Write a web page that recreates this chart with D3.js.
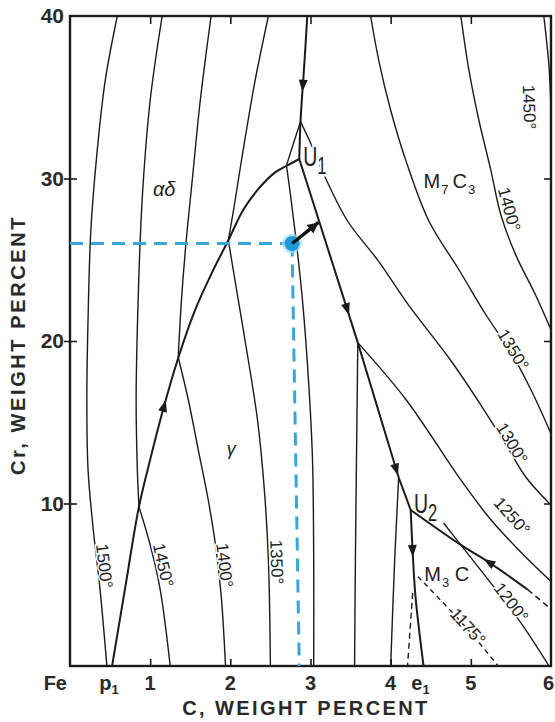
<!DOCTYPE html>
<html>
<head>
<meta charset="utf-8">
<title>Fe–Cr–C liquidus projection</title>
<script src="https://cdn.jsdelivr.net/npm/d3@7/dist/d3.min.js"></script>
<style>
  html, body { margin: 0; padding: 0; background: #ffffff; }
  svg { display: block; }
  text { font-family: "Liberation Sans", Arial, Helvetica, sans-serif; }
</style>
</head>
<body>
<svg id="chart" width="555" height="722"></svg>
<script>
// ---------- axis ticks and labels ----------
const carbonTicks = [1, 2, 3, 4, 5];
const chromiumTicks = [10, 20, 30];
const chromiumTickLabels = [10, 20, 30, 40];
const carbonTickLabels = [
  { c: 0, text: "Fe" },
  { c: 0.525, text: "p", sub: "1" },
  { c: 1, text: "1" },
  { c: 2, text: "2" },
  { c: 3, text: "3" },
  { c: 4, text: "4" },
  { c: 4.41, text: "e", sub: "1" },
  { c: 5, text: "5" },
  { c: 6, text: "6" }
];

// ---------- liquidus isotherms: [C wt%, Cr wt%], one array per field segment ----------
const iso1500 = [
  [[0.59, 40], [0.44, 36.06], [0.34, 31.75], [0.26, 26.8], [0.225, 21.3], [0.21, 16.4], [0.225, 12.1], [0.29, 8.4], [0.375, 4.7], [0.46, 0]]
];
const iso1450 = [
  [[1.15, 40], [1.0, 34.8], [0.9, 28.7], [0.85, 22.5], [0.825, 16.4], [0.84, 12.1], [0.86, 9.8]],
  [[0.86, 9.8], [1.0, 7.45], [1.125, 4.7], [1.25, 0]],
  [[5.91, 40], [5.975, 36.9], [6.0, 34.2]]
];
const iso1400 = [
  [[1.76, 40], [1.625, 34.8], [1.525, 29.9], [1.45, 26.2], [1.39, 22.5], [1.35, 19.0]],
  [[1.35, 19.0], [1.475, 16.4], [1.6, 13.3], [1.725, 10.2], [1.825, 7.1], [1.89, 4.1], [1.94, 0]],
  [[4.875, 40], [4.975, 36.7], [5.1, 33.6], [5.25, 30.5], [5.375, 27.75], [5.56, 25.3], [5.81, 22.8], [6.0, 20.7]]
];
const iso1350 = [
  [[2.475, 40], [2.31, 36.06], [2.16, 31.75], [2.04, 28.06], [1.975, 26.2]],
  [[1.975, 26.2], [2.1, 22.5], [2.225, 18.8], [2.34, 15.1], [2.425, 10.8], [2.475, 6.5], [2.5, 0]],
  [[3.75, 40], [3.85, 37.3], [4.0, 34.2], [4.19, 31.1], [4.475, 27.4], [4.85, 24.4], [5.19, 21.6], [5.5, 19.3], [5.75, 17.0], [6.0, 14.3]]
];
const iso1300 = [
  [[3.04, 0], [3.04, 6.5], [3.025, 12.7], [2.975, 17.6], [2.9, 22.5], [2.825, 26.0], [2.75, 29.0], [2.7, 30.8]],
  [[2.7, 30.8], [2.79, 32.2], [2.875, 33.5]],
  [[2.875, 33.5], [3.0, 32.2], [3.19, 30.0], [3.46, 27.4], [3.85, 24.9], [4.21, 22.3], [4.75, 18.8], [5.125, 16.06], [5.44, 13.6], [5.69, 11.6], [6.0, 9.9]]
];
const iso1250 = [
  [[3.59, 19.9], [3.575, 13.3], [3.56, 6.5], [3.55, 0]],
  [[3.59, 19.9], [4.19, 16.4], [4.875, 11.45], [5.25, 9.0], [5.625, 7.0], [6.0, 5.2]]
];
const iso1200 = [
  [[4.1, 11.6], [4.05, 6.5], [4.0, 0]],
  [[4.66, 8.8], [4.875, 7.45], [5.25, 5.1], [5.625, 2.65], [5.975, 0]]
];
const iso1175 = [
  [[4.34, 5.5], [4.71, 3.6], [5.04, 1.8], [5.34, 0]]
];

// ---------- univariant lines (valleys) ----------
const valleyDeltaM7 = [[2.96, 40], [2.925, 37.2], [2.89, 34.7], [2.875, 33.5], [2.86, 31.2]];
const peritectic = [[0.525, 0], [0.69, 4.86], [0.86, 9.8], [1.0, 12.7], [1.16, 15.75], [1.34, 18.8], [1.56, 21.9], [1.775, 24.25], [1.975, 26.2], [2.16, 28.06], [2.34, 29.3], [2.54, 30.3], [2.71, 30.8], [2.86, 31.2]];
const valleyGammaM7 = [[2.86, 31.2], [3.59, 19.9], [4.1, 11.6], [4.25, 9.6]];
const valleyGammaM3 = [[4.25, 9.6], [4.275, 6.95], [4.31, 4.25], [4.41, 0]];
const valleyM7M3 = [[4.25, 9.6], [4.875, 7.45], [5.25, 6.3], [5.71, 4.7]];
const valleyM7M3Metastable = [[5.71, 4.7], [5.975, 3.6]];
const gammaM3Metastable = [[4.275, 4.5], [4.21, 0]];

// direction of falling temperature along each valley (fraction of its length)
const flowArrows = [
  { curve: "valleyDeltaM7", at: 0.53, reverse: false },
  { curve: "peritectic", at: 0.49, reverse: false },
  { curve: "valleyGammaM7", at: 0.445, reverse: false },
  { curve: "valleyGammaM7", at: 0.9, reverse: false },
  { curve: "valleyGammaM3", at: 0.3, reverse: false },
  { curve: "valleyM7M3", at: 0.62, reverse: true }
];

// ---------- labels ----------
const isoLabels = [
  { text: "1500°", iso: "1500", seg: 0, c: 0.425, cr: 6.15 },
  { text: "1450°", iso: "1450", seg: 1, c: 1.16, cr: 6.2 },
  { text: "1400°", iso: "1400", seg: 1, c: 1.925, cr: 6.2 },
  { text: "1350°", iso: "1350", seg: 1, c: 2.575, cr: 6.4 },
  { text: "1450°", iso: "1450", seg: 2, c: 5.725, cr: 34.4 },
  { text: "1400°", iso: "1400", seg: 2, c: 5.475, cr: 28.1 },
  { text: "1350°", iso: "1350", seg: 2, c: 5.525, cr: 19.45 },
  { text: "1300°", iso: "1300", seg: 2, c: 5.51, cr: 13.7 },
  { text: "1250°", iso: "1250", seg: 1, c: 5.51, cr: 9.2 },
  { text: "1200°", iso: "1200", seg: 1, c: 5.5, cr: 3.9 },
  { text: "1175°", iso: "1175", seg: 0, c: 4.96, cr: 2.4 }
];
const phaseLabels = [
  { parts: [["αδ", ""]], c: 1.175, cr: 28.9, greek: true },
  { parts: [["γ", ""]], c: 2.01, cr: 13.0, greek: true },
  { parts: [["M", ""], ["7", "sub"], ["C", ""], ["3", "sub"]], c: 4.41, cr: 29.4 },
  { parts: [["M", ""], ["3", "sub"], [" C", ""]], c: 4.42, cr: 5.23 }
];
const invariantLabels = [
  { name: "U", sub: "1", c: 2.91, cr: 30.8 },
  { name: "U", sub: "2", c: 4.29, cr: 9.4 }
];

// example alloy and its liquid path
const samplePoint = [2.77, 26.0];
const sampleGuideFoot = [2.86, 0];
const sampleArrowEnd = [3.1, 27.3];

// ---------- drawing ----------
const svg = d3.select("#chart");
const x = d3.scaleLinear().domain([0, 6]).range([70, 551]);
const y = d3.scaleLinear().domain([0, 40]).range([666, 16]);

const smooth = d3.line().x(d => x(d[0])).y(d => y(d[1])).curve(d3.curveCatmullRom.alpha(0.5));
const straight = d3.line().x(d => x(d[0])).y(d => y(d[1]));

svg.append("defs").append("clipPath").attr("id", "plotArea")
  .append("rect")
  .attr("x", x(0)).attr("y", y(40))
  .attr("width", x(6) - x(0)).attr("height", y(0) - y(40));

const ink = "#1b1b1b";

// isotherms
const isotherms = { "1500": iso1500, "1450": iso1450, "1400": iso1400, "1350": iso1350,
                    "1300": iso1300, "1250": iso1250, "1200": iso1200, "1175": iso1175 };
const isoNodes = {};
const gIso = svg.append("g").attr("clip-path", "url(#plotArea)")
  .attr("fill", "none").attr("stroke", ink).attr("stroke-width", 1.4);
Object.entries(isotherms).forEach(([t, segs]) => {
  isoNodes[t] = segs.map(seg => gIso.append("path")
    .attr("d", smooth(seg))
    .attr("stroke-dasharray", t === "1175" ? "5 4" : null)
    .node());
});

// isotherm labels, turned along the local direction of their isotherm
const gIsoLab = svg.append("g");
isoLabels.forEach(lb => {
  const node = isoNodes[lb.iso][lb.seg];
  const px = x(lb.c), py = y(lb.cr);
  const L = node.getTotalLength();
  let best = 0, bestD = Infinity;
  for (let s = 0; s <= L; s += 1) {
    const p = node.getPointAtLength(s);
    const d = (p.x - px) ** 2 + (p.y - py) ** 2;
    if (d < bestD) { bestD = d; best = s; }
  }
  const a = node.getPointAtLength(Math.max(0, best - 6));
  const b = node.getPointAtLength(Math.min(L, best + 6));
  let dx = b.x - a.x, dy = b.y - a.y;
  if (dy < 0) { dx = -dx; dy = -dy; }
  const ang = Math.atan2(dy, dx) * 180 / Math.PI;
  gIsoLab.append("text")
    .attr("transform", `translate(${px},${py}) rotate(${ang})`)
    .attr("text-anchor", "middle")
    .attr("dominant-baseline", "central")
    .attr("font-size", 17)
    .attr("fill", "#222")
    .attr("stroke", "#fff").attr("stroke-width", 3).attr("paint-order", "stroke")
    .text(lb.text);
});

// invariant point labels
invariantLabels.forEach(lb => {
  const t = svg.append("text")
    .attr("transform", `translate(${x(lb.c)},${y(lb.cr)}) scale(0.72,1)`)
    .attr("fill", "#222")
    .attr("stroke", "#fff").attr("stroke-width", 5).attr("paint-order", "stroke");
  t.append("tspan").attr("font-size", 27).text(lb.name);
  t.append("tspan").attr("font-size", 23).attr("dy", 8).text(lb.sub);
});

// valleys and peritectic line
const gValley = svg.append("g").attr("clip-path", "url(#plotArea)")
  .attr("fill", "none").attr("stroke", ink).attr("stroke-width", 2);
const valleyNodes = {};
valleyNodes.valleyDeltaM7 = gValley.append("path").attr("d", smooth(valleyDeltaM7)).node();
valleyNodes.peritectic = gValley.append("path").attr("d", smooth(peritectic)).node();
valleyNodes.valleyGammaM7 = gValley.append("path").attr("d", straight(valleyGammaM7)).node();
valleyNodes.valleyGammaM3 = gValley.append("path").attr("d", smooth(valleyGammaM3)).node();
valleyNodes.valleyM7M3 = gValley.append("path").attr("d", smooth(valleyM7M3)).node();
gValley.append("path").attr("d", straight(valleyM7M3Metastable))
  .attr("stroke-width", 1.5).attr("stroke-dasharray", "6 4");
gValley.append("path").attr("d", straight(gammaM3Metastable))
  .attr("stroke-width", 1.4).attr("stroke-dasharray", "6 4");

// arrowheads along the valleys
function arrowHead(g, tip, ang, len, half) {
  g.append("path")
    .attr("d", `M0,0L${-len},${-half}L${-len},${half}Z`)
    .attr("transform", `translate(${tip.x},${tip.y}) rotate(${ang})`)
    .attr("fill", ink);
}
const gArrows = svg.append("g");
flowArrows.forEach(fa => {
  const node = valleyNodes[fa.curve];
  const L = node.getTotalLength();
  const s = L * fa.at;
  const tip = node.getPointAtLength(s);
  const back = node.getPointAtLength(fa.reverse ? Math.min(L, s + 3) : Math.max(0, s - 3));
  const ang = Math.atan2(tip.y - back.y, tip.x - back.x) * 180 / Math.PI;
  arrowHead(gArrows, tip, ang, 12, 4.5);
});

// phase field labels
phaseLabels.forEach(lb => {
  const t = svg.append("text")
    .attr("x", x(lb.c)).attr("y", y(lb.cr))
    .attr("fill", "#222")
    .attr("text-anchor", lb.greek ? "middle" : "start");
  if (lb.greek) {
    t.attr("font-family", "'DejaVu Serif', 'Liberation Serif', serif")
     .attr("font-style", "italic")
     .attr("font-size", lb.parts[0][0] === "γ" ? 18 : 20);
  }
  let shifted = false;
  lb.parts.forEach(([str, kind]) => {
    const ts = t.append("tspan").text(str);
    if (kind === "sub") {
      ts.attr("font-size", 13).attr("dy", 6).attr("dx", 1);
      shifted = true;
    } else if (!lb.greek) {
      const gap = shifted && !str.startsWith(" ") ? 4 : 0;
      ts.attr("font-size", 20).attr("dx", gap).attr("dy", shifted ? -6 : 0);
      shifted = false;
    }
  });
});

// frame
svg.append("rect")
  .attr("x", x(0)).attr("y", y(40))
  .attr("width", x(6) - x(0)).attr("height", y(0) - y(40))
  .attr("fill", "none").attr("stroke", ink).attr("stroke-width", 2.4);

// ticks
function styleAxis(g) {
  g.select(".domain").remove();
  g.selectAll(".tick line").attr("stroke", ink).attr("stroke-width", 1.6);
}
svg.append("g").attr("transform", `translate(0,${y(0)})`)
  .call(d3.axisBottom(x).tickValues(carbonTicks).tickSize(-7).tickFormat(""))
  .call(styleAxis);
svg.append("g").attr("transform", `translate(0,${y(40)})`)
  .call(d3.axisTop(x).tickValues(carbonTicks).tickSize(-8).tickFormat(""))
  .call(styleAxis);
svg.append("g").attr("transform", `translate(${x(0) + 7},0)`)
  .call(d3.axisLeft(y).tickValues(chromiumTicks).tickSize(13).tickFormat(""))
  .call(styleAxis);
svg.append("g").attr("transform", `translate(${x(6)},0)`)
  .call(d3.axisLeft(y).tickValues(chromiumTicks).tickSize(7).tickFormat(""))
  .call(styleAxis);

// Cr tick labels
svg.append("g").attr("transform", `translate(${x(0)},0)`)
  .call(d3.axisLeft(y).tickValues(chromiumTickLabels).tickSize(0).tickPadding(6).tickFormat(d3.format("d")))
  .call(g => g.select(".domain").remove())
  .call(g => g.selectAll("text")
    .attr("font-family", "'Liberation Sans', Arial, sans-serif")
    .attr("font-size", 21).attr("font-weight", "bold").attr("fill", "#2a2a2a"));

// C tick labels
const gx = svg.append("g");
carbonTickLabels.forEach(lb => {
  const isFirst = lb.c === 0, isLast = lb.c === 6;
  const t = gx.append("text")
    .attr("x", isFirst ? x(0) - 3 : isLast ? x(6) + 3 : x(lb.c) - (lb.sub ? 3 : 0))
    .attr("y", y(0) + 24)
    .attr("text-anchor", isFirst || isLast ? "end" : "middle")
    .attr("font-size", 20).attr("font-weight", "bold").attr("fill", "#2a2a2a");
  t.append("tspan").text(lb.text);
  if (lb.sub) t.append("tspan").attr("font-size", 13).attr("dy", 4).text(lb.sub);
});

// axis titles
svg.append("text")
  .attr("x", 306).attr("y", 715)
  .attr("text-anchor", "middle")
  .attr("font-size", 20).attr("font-weight", "bold").attr("letter-spacing", 2.4)
  .attr("fill", "#2a2a2a")
  .text("C, WEIGHT PERCENT");
svg.append("text")
  .attr("transform", "translate(25,345) rotate(-90)")
  .attr("text-anchor", "middle")
  .attr("font-size", 20).attr("font-weight", "bold").attr("letter-spacing", 2.6)
  .attr("fill", "#2a2a2a")
  .text("Cr, WEIGHT PERCENT");

// example alloy: guide lines, point and initial liquid path
const blue = "#35a8d8";
const gGuide = svg.append("g").attr("fill", "none").attr("stroke", blue)
  .attr("stroke-width", 3).attr("stroke-dasharray", "13 8");
gGuide.append("path").attr("d", straight([[0, samplePoint[1]], samplePoint]));
gGuide.append("path").attr("d", straight([samplePoint, sampleGuideFoot]));

svg.append("circle").attr("cx", x(samplePoint[0])).attr("cy", y(samplePoint[1]))
  .attr("r", 10).attr("fill", "#9fd8f3").attr("opacity", 0.7);
svg.append("circle").attr("cx", x(samplePoint[0])).attr("cy", y(samplePoint[1]))
  .attr("r", 7.5).attr("fill", "#1d9ad8");

const aStart = { x: x(samplePoint[0]), y: y(samplePoint[1]) };
const aEnd = { x: x(sampleArrowEnd[0]), y: y(sampleArrowEnd[1]) };
const aAng = Math.atan2(aEnd.y - aStart.y, aEnd.x - aStart.x) * 180 / Math.PI;
svg.append("path").attr("d", straight([samplePoint, sampleArrowEnd]))
  .attr("stroke", "#111").attr("stroke-width", 3.4).attr("fill", "none");
arrowHead(svg, aEnd, aAng, 11, 5.5);
</script>
</body>
</html>
